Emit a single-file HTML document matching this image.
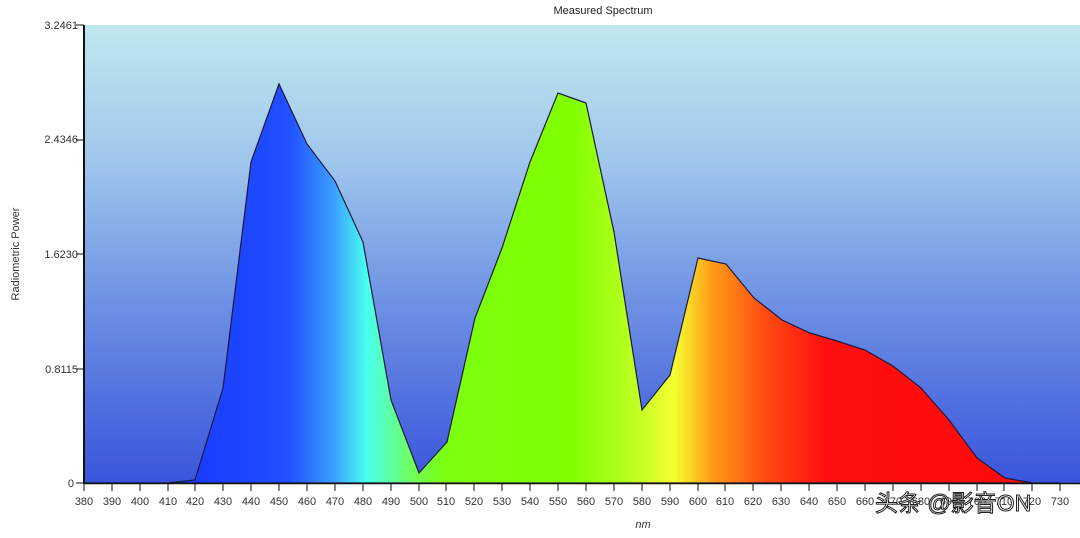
<!DOCTYPE html><html><head><style>body{margin:0;background:#fff;font-family:"Liberation Sans","Noto Sans CJK SC",sans-serif}</style></head><body>
<svg width="1080" height="533" xmlns="http://www.w3.org/2000/svg" font-family="Liberation Sans, Noto Sans CJK SC, sans-serif">
<defs>
<linearGradient id="bg" x1="0" y1="0" x2="0" y2="1">
<stop offset="0" stop-color="#bfe8ee"/><stop offset="0.3" stop-color="#9fc6ec"/><stop offset="0.6" stop-color="#6f92e4"/><stop offset="1" stop-color="#3a55dc"/></linearGradient>
<linearGradient id="sp" gradientUnits="userSpaceOnUse" x1="84" y1="0" x2="1059" y2="0">
<stop offset="0.12" stop-color="#1a3cff"/><stop offset="0.21" stop-color="#2050ff"/><stop offset="0.255" stop-color="#3c9cff"/><stop offset="0.29" stop-color="#48fff0"/><stop offset="0.335" stop-color="#70ff60"/><stop offset="0.37" stop-color="#7cff10"/><stop offset="0.5" stop-color="#80ff00"/><stop offset="0.56" stop-color="#b8ff20"/><stop offset="0.605" stop-color="#f4ff30"/><stop offset="0.645" stop-color="#ff9a18"/><stop offset="0.7" stop-color="#ff4a12"/><stop offset="0.76" stop-color="#ff1010"/><stop offset="1" stop-color="#ff0808"/></linearGradient>
</defs>
<rect x="84" y="25" width="996" height="458" fill="url(#bg)"/>
<polygon fill="url(#sp)" stroke="#1a1a40" stroke-width="1.2" points="84,483 167,483 195,480 223,388 251,162 279,84 307,144 335,181 363,242 391,400 419,473 447,442 475,318 502,248 530,162 558,93 586,103 614,232 642,410 670,375 698,258 726,264 754,298 782,320 810,333 837,341 865,350 893,366 921,388 949,420 977,458 1005,478 1033,483 1059,483"/>
<line x1="84" y1="25" x2="84" y2="484" stroke="#111" stroke-width="2"/>
<line x1="84" y1="483.5" x2="1080" y2="483.5" stroke="#111" stroke-width="1.5"/>
<g font-size="11" fill="#333" text-anchor="end">
<text x="78" y="29">3.2461</text><text x="78" y="143">2.4346</text><text x="78" y="258">1.6230</text><text x="78" y="373">0.8115</text><text x="74" y="487">0</text></g>
<g stroke="#111"><line x1="76" y1="25" x2="84" y2="25"/><line x1="76" y1="140" x2="84" y2="140"/><line x1="76" y1="254" x2="84" y2="254"/><line x1="76" y1="369" x2="84" y2="369"/><line x1="76" y1="483" x2="84" y2="483"/></g>
<g font-size="11" fill="#333" text-anchor="middle">
<text x="84" y="505">380</text><text x="112" y="505">390</text><text x="140" y="505">400</text><text x="168" y="505">410</text><text x="195" y="505">420</text><text x="223" y="505">430</text><text x="251" y="505">440</text><text x="279" y="505">450</text><text x="307" y="505">460</text><text x="335" y="505">470</text><text x="363" y="505">480</text><text x="391" y="505">490</text><text x="419" y="505">500</text><text x="446" y="505">510</text><text x="474" y="505">520</text><text x="502" y="505">530</text><text x="530" y="505">540</text><text x="558" y="505">550</text><text x="586" y="505">560</text><text x="614" y="505">570</text><text x="642" y="505">580</text><text x="670" y="505">590</text><text x="698" y="505">600</text><text x="725" y="505">610</text><text x="753" y="505">620</text><text x="781" y="505">630</text><text x="809" y="505">640</text><text x="837" y="505">650</text><text x="865" y="505">660</text><text x="893" y="505">670</text><text x="921" y="505">680</text><text x="949" y="505">690</text><text x="977" y="505">700</text><text x="1004" y="505">710</text><text x="1032" y="505">720</text><text x="1060" y="505">730</text>
</g>
<g stroke="#111">
<path d="M84,483v8M112,483v8M140,483v8M168,483v8M195,483v8M223,483v8M251,483v8M279,483v8M307,483v8M335,483v8M363,483v8M391,483v8M419,483v8M446,483v8M474,483v8M502,483v8M530,483v8M558,483v8M586,483v8M614,483v8M642,483v8M670,483v8M698,483v8M725,483v8M753,483v8M781,483v8M809,483v8M837,483v8M865,483v8M893,483v8M921,483v8M949,483v8M977,483v8M1004,483v8M1032,483v8M1060,483v8"/>
</g>
<text x="603" y="14" font-size="11" fill="#222" text-anchor="middle">Measured Spectrum</text>
<text x="643" y="528" font-size="11" fill="#333" font-style="italic" text-anchor="middle">nm</text>
<text transform="translate(19,254) rotate(-90)" font-size="11" fill="#333" text-anchor="middle">Radiometric Power</text>
<text x="875" y="511" font-size="23" fill="#fff" stroke="#222" stroke-width="1">头条 @影音ON</text>
</svg></body></html>
